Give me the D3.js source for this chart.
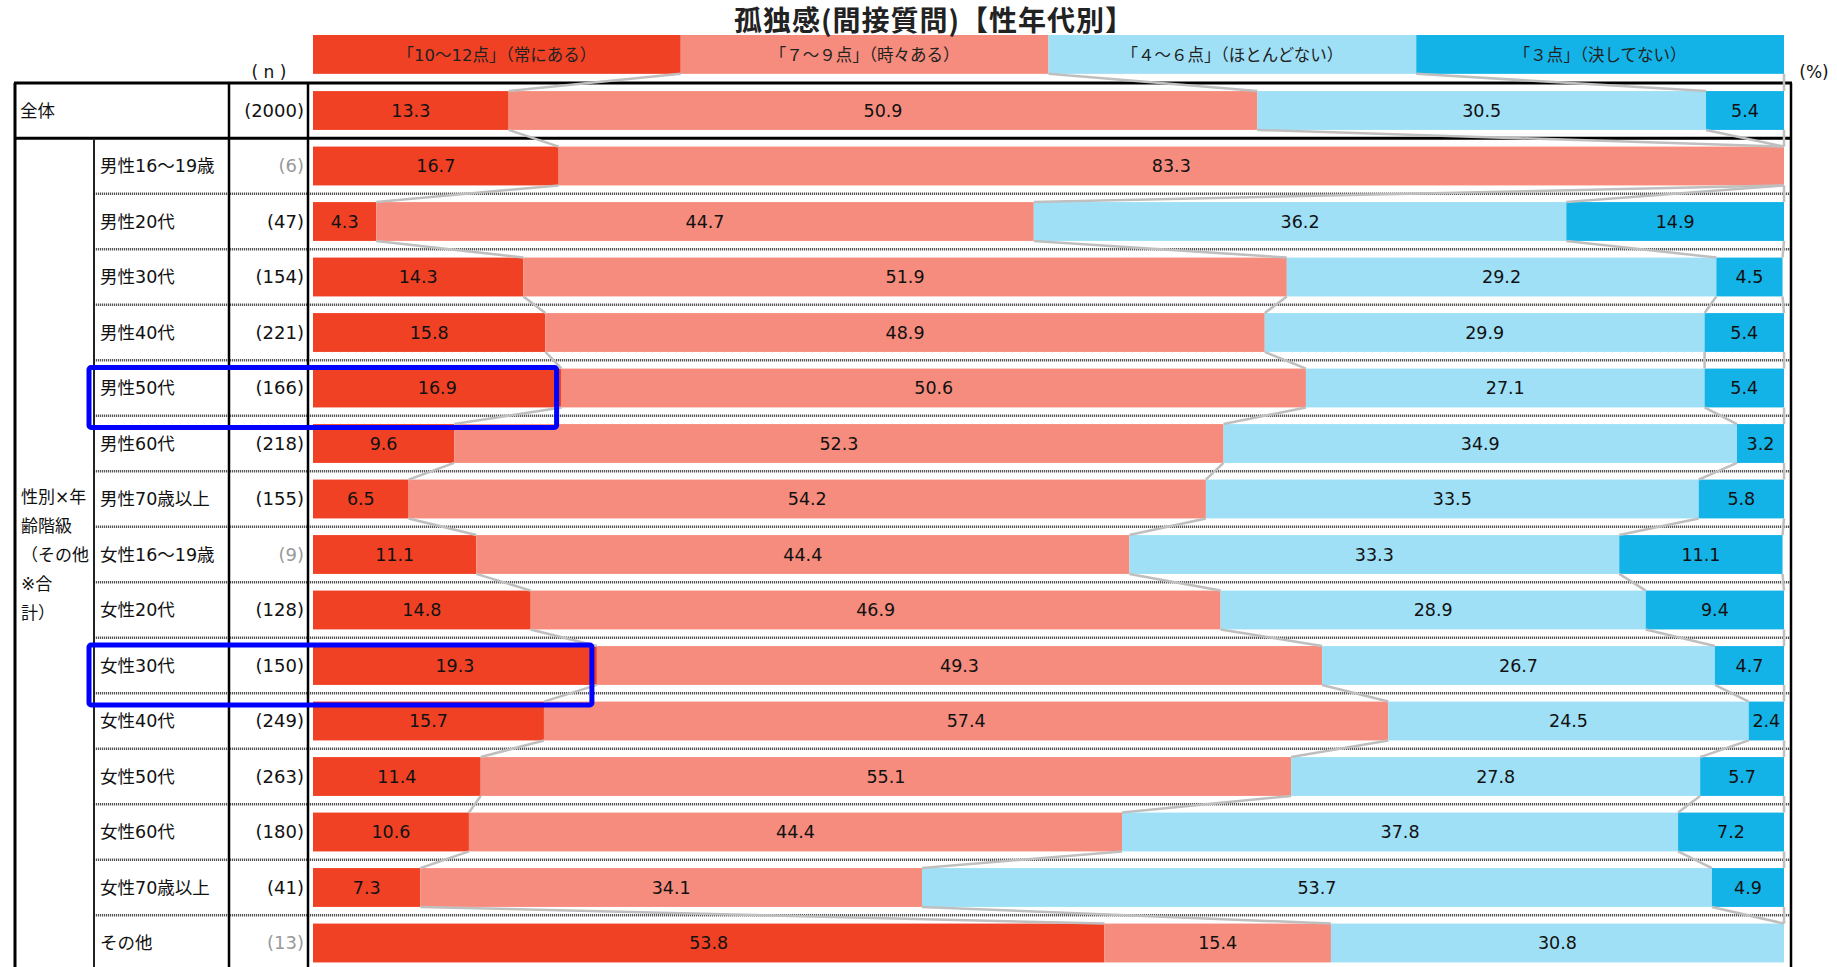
<!DOCTYPE html>
<html>
<head>
<meta charset="utf-8">
<script src="https://cdn.jsdelivr.net/npm/d3@7"></script>
<style>
  body { margin: 0; background: #fff; }
  svg text { font-family: "DejaVu Sans", "Noto Sans CJK JP", sans-serif; }
</style>
</head>
<body>
<div id="chart"></div>
<script>
// data
var title = "孤独感(間接質問)【性年代別】";
var seriesNames = ["「10～12点」（常にある）", "「７～９点」（時々ある）", "「４～６点」（ほとんどない）", "「３点」（決してない）"];
var categories = ["全体", "男性16～19歳", "男性20代", "男性30代", "男性40代", "男性50代", "男性60代", "男性70歳以上",
  "女性16～19歳", "女性20代", "女性30代", "女性40代", "女性50代", "女性60代", "女性70歳以上", "その他"];
var nValues = [2000, 6, 47, 154, 221, 166, 218, 155, 9, 128, 150, 249, 263, 180, 41, 13];
var always = [13.3, 16.7, 4.3, 14.3, 15.8, 16.9, 9.6, 6.5, 11.1, 14.8, 19.3, 15.7, 11.4, 10.6, 7.3, 53.8];
var sometimes = [50.9, 83.3, 44.7, 51.9, 48.9, 50.6, 52.3, 54.2, 44.4, 46.9, 49.3, 57.4, 55.1, 44.4, 34.1, 15.4];
var rarely = [30.5, 0, 36.2, 29.2, 29.9, 27.1, 34.9, 33.5, 33.3, 28.9, 26.7, 24.5, 27.8, 37.8, 53.7, 30.8];
var never = [5.4, 0, 14.9, 4.5, 5.4, 5.4, 3.2, 5.8, 11.1, 9.4, 4.7, 2.4, 5.7, 7.2, 4.9, 0];
var groupLabel = ["性別×年", "齢階級", "（その他", "※合", "計）"];
var highlighted = ["男性50代", "女性30代"];

var colors = ["#F04124", "#F68C7D", "#9FE0F7", "#13B3E8"];

var W = 1837, H = 967;
var svg = d3.select("#chart").append("svg").attr("width", W).attr("height", H);

var x = d3.scaleLinear().domain([0, 100]).range([313, 1784]);
var y = d3.scaleBand().domain(categories).range([82.75, 970.75]).paddingInner(0.3).paddingOuter(0.15);
var bw = y.bandwidth();
var step = y.step();

var rows = categories.map(function(c, i) {
  var vals = [always[i], sometimes[i], rarely[i], never[i]];
  var cum = 0, segs = [];
  vals.forEach(function(v, k) { segs.push({k: k, v: v, x0: cum, x1: cum + v, cat: c}); cum += v; });
  // keep edges inside 100 for the series lines
  segs.forEach(function(s) { s.x1 = Math.min(s.x1, 100); s.x0 = Math.min(s.x0, 100); });
  return {cat: c, n: nValues[i], segs: segs};
});

// legend bar (4 equal blocks)
var legTop = 35, legH = bw;
var legSegs = seriesNames.map(function(s, k) { return {k: k, name: s, x0: k * 25, x1: (k + 1) * 25}; });
svg.append("g").selectAll("rect").data(legSegs).enter().append("rect")
  .attr("x", function(d) { return x(d.x0); })
  .attr("y", legTop)
  .attr("width", function(d) { return x(d.x1) - x(d.x0); })
  .attr("height", legH)
  .attr("fill", function(d) { return colors[d.k]; });
svg.append("g").selectAll("text").data(legSegs).enter().append("text")
  .attr("x", function(d) { return (x(d.x0) + x(d.x1)) / 2; })
  .attr("y", legTop + legH / 2 + 1)
  .attr("dy", "0.35em")
  .attr("text-anchor", "middle")
  .attr("font-size", 16.5)
  .attr("fill", "#222")
  .text(function(d) { return d.name; });

// title
svg.append("text").attr("x", 934).attr("y", 21).attr("dy", "0.35em")
  .attr("text-anchor", "middle").attr("font-size", 28).attr("font-weight", "bold")
  .attr("letter-spacing", 1)
  .attr("fill", "#222")
  .style("font-family", "'Noto Sans CJK JP', sans-serif")
  .text(title);

// table lines
var grid = svg.append("g");
var tableTop = 83;
var firstSep = y(categories[0]) + bw + (step - bw) / 2;
// dotted row separators
categories.forEach(function(c, i) {
  if (i === 0 || i === categories.length - 1) return;
  var yy = y(c) + bw + (step - bw) / 2;
  grid.append("line").attr("x1", 94).attr("x2", 1791).attr("y1", yy).attr("y2", yy)
    .attr("stroke", "#555").attr("stroke-width", 2.5).attr("stroke-dasharray", "1.2,0.8");
});
grid.append("line").attr("x1", 15).attr("x2", 1792).attr("y1", firstSep).attr("y2", firstSep)
  .attr("stroke", "#000").attr("stroke-width", 3);
grid.append("line").attr("x1", 14).attr("x2", 1792).attr("y1", tableTop).attr("y2", tableTop)
  .attr("stroke", "#000").attr("stroke-width", 3);
grid.append("line").attr("x1", 15).attr("x2", 15).attr("y1", tableTop).attr("y2", H)
  .attr("stroke", "#000").attr("stroke-width", 3);
grid.append("line").attr("x1", 94).attr("x2", 94).attr("y1", firstSep).attr("y2", H)
  .attr("stroke", "#222").attr("stroke-width", 2);
[229, 308].forEach(function(xx) {
  grid.append("line").attr("x1", xx).attr("x2", xx).attr("y1", tableTop).attr("y2", H)
    .attr("stroke", "#000").attr("stroke-width", 2.5);
});
grid.append("line").attr("x1", 1791).attr("x2", 1791).attr("y1", tableTop).attr("y2", H)
  .attr("stroke", "#000").attr("stroke-width", 2.5);

// bars
var barG = svg.append("g").selectAll("g").data(rows).enter().append("g");
barG.selectAll("rect").data(function(d) { return d.segs.filter(function(s) { return s.v > 0; }); })
  .enter().append("rect")
  .attr("x", function(d) { return x(d.x0); })
  .attr("y", function(d) { return y(d.cat); })
  .attr("width", function(d) { return x(d.x1) - x(d.x0); })
  .attr("height", bw)
  .attr("fill", function(d) { return colors[d.k]; });
barG.selectAll("text").data(function(d) { return d.segs.filter(function(s) { return s.v > 0; }); })
  .enter().append("text")
  .attr("x", function(d) { return (x(d.x0) + x(d.x1)) / 2; })
  .attr("y", function(d) { return y(d.cat) + bw / 2; })
  .attr("dy", "0.36em")
  .attr("text-anchor", "middle")
  .attr("font-size", 17.5)
  .attr("fill", "#111")
  .text(function(d) { return d.v.toFixed(1); });

// series lines between bars
var levels = [{edges: legSegs.map(function(s) { return s.x1; }), top: legTop, bottom: legTop + legH}]
  .concat(rows.map(function(r) { return {edges: r.segs.map(function(s) { return s.x1; }), top: y(r.cat), bottom: y(r.cat) + bw}; }));
var conn = svg.append("g");
for (var i = 0; i < levels.length - 1; i++) {
  for (var k = 0; k < 4; k++) {
    conn.append("line")
      .attr("x1", x(levels[i].edges[k])).attr("y1", levels[i].bottom)
      .attr("x2", x(levels[i + 1].edges[k])).attr("y2", levels[i + 1].top)
      .attr("stroke", "#BFBFBF").attr("stroke-width", 2.5);
  }
}

// row labels
var lab = svg.append("g");
rows.forEach(function(r, i) {
  var cy = y(r.cat) + bw / 2;
  lab.append("text").attr("x", i === 0 ? 20 : 100).attr("y", cy).attr("dy", "0.36em")
    .attr("font-size", 17.5).attr("fill", "#111").text(r.cat);
  lab.append("text").attr("x", 304).attr("y", cy).attr("dy", "0.36em")
    .attr("text-anchor", "end").attr("font-size", 18)
    .attr("fill", r.n < 30 ? "#999" : "#111").text("(" + r.n + ")");
});
svg.append("text").attr("x", 269).attr("y", 72).attr("dy", "0.35em").attr("text-anchor", "middle")
  .attr("font-size", 17).attr("fill", "#111").text("( n )");
svg.append("text").attr("x", 1814).attr("y", 72).attr("dy", "0.35em").attr("text-anchor", "middle")
  .attr("font-size", 17).attr("fill", "#111").text("(%)");

// group label
var groupMid = (firstSep + y(categories[categories.length - 1]) + bw + (step - bw) / 2) / 2;
svg.append("g").selectAll("text").data(groupLabel).enter().append("text")
  .attr("x", 21)
  .attr("y", function(d, i) { return groupMid + (i - (groupLabel.length - 1) / 2) * 29; })
  .attr("dy", "0.36em")
  .attr("font-size", 17).attr("fill", "#111")
  .text(function(d) { return d; });

// highlight boxes
highlighted.forEach(function(c) {
  var i = categories.indexOf(c);
  svg.append("rect")
    .attr("x", 89)
    .attr("y", y(c) - 1)
    .attr("width", x(always[i]) - 5 - 89)
    .attr("height", bw + 21)
    .attr("rx", 2)
    .attr("fill", "none")
    .attr("stroke", "#0000FF")
    .attr("stroke-width", 5);
});
</script>
</body>
</html>
